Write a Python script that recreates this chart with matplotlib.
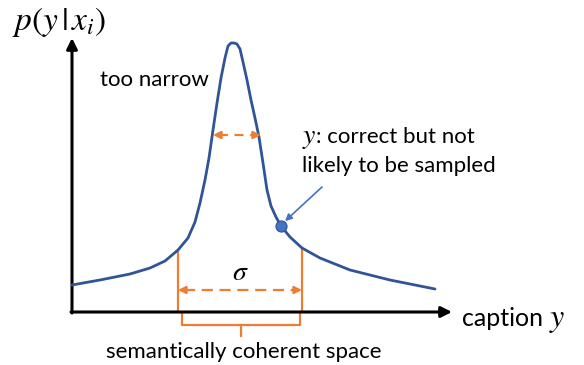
"""Sketch of a narrow caption distribution p(y|x_i) versus the semantically coherent space."""

import matplotlib

matplotlib.use("Agg")

import matplotlib.pyplot as plt


# canvas in pixel units (origin top-left)
WIDTH, HEIGHT = 584, 365

BLUE_CURVE = "#2F5597"
BLUE_POINT = "#4472C4"
ORANGE = "#ED7D31"

# density curve
curve_x = [72, 100, 130, 150, 165, 178, 188, 195, 200, 205, 209, 213, 217, 221,
           225, 228, 231, 234, 237, 240, 243, 247, 251, 255, 259, 263, 267,
           271, 276, 281, 290, 302, 320, 350, 390, 435]
curve_y = [285, 280, 274, 268, 261, 250, 238, 222, 203, 180, 158, 130, 103, 78,
           58, 46, 43, 43, 44, 49, 62, 80, 100, 118, 137, 163, 190,
           206, 217, 226, 237, 248, 258, 270, 280, 289]

# sampled caption point on the tail
point_x, point_y = 281, 226

# axes
origin = (72, 312)
y_axis_top = 38
x_axis_end = 452

# narrow width marker on the peak
narrow_left, narrow_right, narrow_level = 213, 261, 135

# semantically coherent interval
sigma_left, sigma_right = 178, 302
sigma_top_left, sigma_top_right = 250, 248
sigma_level = 290
brace_left, brace_right, brace_level, brace_top, brace_tip = 182, 300, 325, 314, 336

TEXT_FONT = ["Lato", "DejaVu Sans"]


def dashed_double_arrow(ax, x0, x1, y, dashes):
    ax.plot([x0 + 6, x1 - 6], [y, y], color=ORANGE, lw=1.6, dashes=dashes,
            solid_capstyle="butt")
    for start, end in [(x0 + 7, x0), (x1 - 7, x1)]:
        ax.annotate("", xy=(end, y), xytext=(start, y),
                    arrowprops=dict(arrowstyle="-|>", color=ORANGE, lw=1.6,
                                    mutation_scale=11, shrinkA=0, shrinkB=0))


def math_then_text(fig, ax, x, y, math, text, math_size, text_size, gap=0):
    """Put a math symbol followed by plain text on one baseline."""
    m = ax.text(x, y, math, fontsize=math_size, ha="left", va="baseline")
    fig.canvas.draw()
    width = m.get_window_extent().width
    ax.text(x + width + gap, y, text, fontsize=text_size, ha="left",
            va="baseline", family=TEXT_FONT)


def text_then_math(fig, ax, x, y, text, math, text_size, math_size, gap=0):
    t = ax.text(x, y, text, fontsize=text_size, ha="left", va="baseline",
                family=TEXT_FONT)
    fig.canvas.draw()
    width = t.get_window_extent().width
    ax.text(x + width + gap, y, math, fontsize=math_size, ha="left", va="baseline")


def main() -> None:
    plt.rcParams["mathtext.fontset"] = "stix"
    fig = plt.figure(figsize=(WIDTH / 100, HEIGHT / 100), dpi=100)
    ax = fig.add_axes([0, 0, 1, 1])
    ax.set_xlim(0, WIDTH)
    ax.set_ylim(HEIGHT, 0)
    ax.axis("off")

    # coordinate axes
    arrow_kw = dict(arrowstyle="-|>", color="black", lw=2.2, mutation_scale=16,
                    shrinkA=0, shrinkB=0)
    ax.annotate("", xy=(origin[0], y_axis_top), xytext=(origin[0], origin[1] + 1),
                arrowprops=arrow_kw)
    ax.annotate("", xy=(x_axis_end, origin[1]), xytext=(origin[0] - 1, origin[1]),
                arrowprops=arrow_kw)

    # density curve
    ax.plot(curve_x, curve_y, color=BLUE_CURVE, lw=2.0, solid_joinstyle="round",
            solid_capstyle="round", zorder=3)

    # sigma interval
    ax.plot([sigma_left, sigma_left], [sigma_top_left, origin[1]], color=ORANGE, lw=1.6)
    ax.plot([sigma_right, sigma_right], [sigma_top_right, origin[1]], color=ORANGE, lw=1.6)
    dashed_double_arrow(ax, sigma_left, sigma_right, sigma_level, (5, 3))
    ax.text((sigma_left + sigma_right) / 2, 272, r"$\sigma$", fontsize=20,
            ha="center", va="center")

    # narrow marker
    dashed_double_arrow(ax, narrow_left, narrow_right, narrow_level, (4, 3))

    # brace under the axis
    mid = (brace_left + brace_right) / 2
    ax.plot([brace_left, brace_left, brace_right, brace_right],
            [brace_top, brace_level, brace_level, brace_top], color=ORANGE, lw=1.6)
    ax.plot([mid, mid], [brace_level, brace_tip], color=ORANGE, lw=1.6)

    # sampled point + its annotation
    ax.annotate("", xy=(point_x + 2, point_y - 3), xytext=(322, 187),
                arrowprops=dict(arrowstyle="-|>", color=BLUE_POINT, lw=1.2,
                                mutation_scale=10, shrinkA=0, shrinkB=2))
    ax.plot([point_x], [point_y], "o", ms=8, color=BLUE_POINT,
            markeredgecolor=BLUE_CURVE, markeredgewidth=0.8, zorder=4)

    # labels
    ax.text(12, 22, r"$p(y\,|\,x_i)$", fontsize=24, ha="left", va="center")
    text_then_math(fig, ax, 462, 326, "caption ", "$y$", 18, 23)
    ax.text(100, 80, "too narrow", fontsize=16, ha="left", va="center",
            family=TEXT_FONT)
    math_then_text(fig, ax, 302, 143, "$y$", ": correct but not", 20, 16)
    ax.text(302, 166, "likely to be sampled", fontsize=16, ha="left", va="center",
            family=TEXT_FONT)
    ax.text(mid + 3, 352, "semantically coherent space", fontsize=16,
            ha="center", va="center", family=TEXT_FONT)

    fig.savefig("out.png", dpi=100)
    plt.close(fig)


if __name__ == "__main__":
    main()
